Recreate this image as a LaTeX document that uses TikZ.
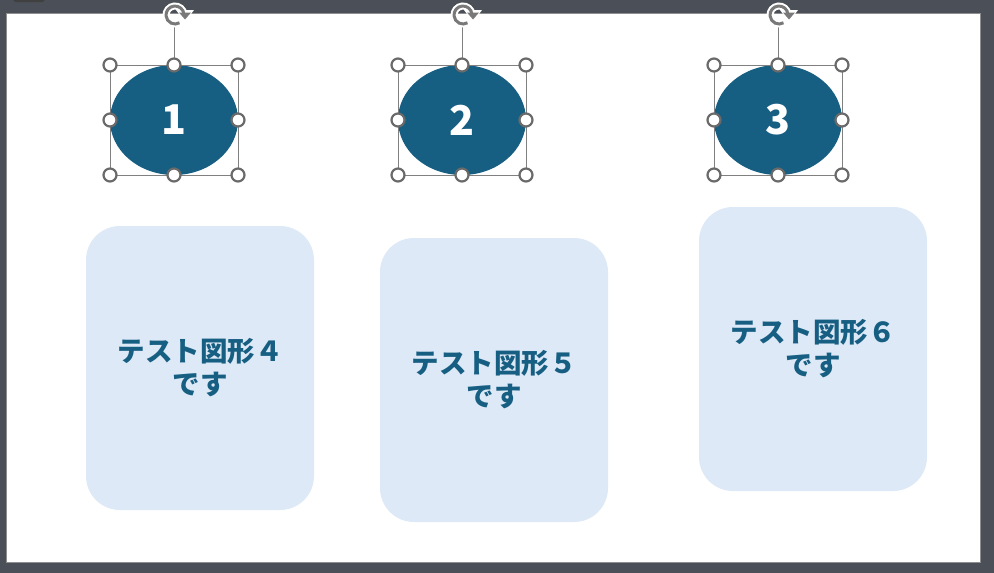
\documentclass[tikz,border=0pt]{standalone}
\usepackage{fontspec}
\newfontfamily\cjk{Noto Sans CJK JP}
\usetikzlibrary{arrows.meta,shapes.geometric}
\definecolor{frameDark}{HTML}{4B5058}
\definecolor{slideEdge}{HTML}{8E8E8E}
\definecolor{ovalBlue}{HTML}{165E82}
\definecolor{boxBlue}{HTML}{DDE9F6}
\definecolor{handleGray}{HTML}{6A6A6A}
\tikzset{
  oval/.style={ellipse, fill=ovalBlue, draw=none, minimum width=128pt, minimum height=110pt, inner sep=0pt,
    text=white, font=\cjk\bfseries\fontsize{41}{41}\selectfont},
  softbox/.style={rectangle, rounded corners=34pt, fill=boxBlue, draw=none, minimum width=228pt, minimum height=284pt,
    text=ovalBlue, align=center, font=\cjk\bfseries\fontsize{27.5}{33}\selectfont},
  selrect/.style={draw=handleGray!85, line width=0.9pt},
  handle/.style={circle, draw=handleGray, line width=2.2pt, fill=white, minimum size=13pt, inner sep=0pt},
}
\newcommand{\selectionbox}[3]{% name, center x, center y
  \coordinate (#1nw) at (#2-64,#3-55);
  \coordinate (#1se) at (#2+64,#3+55);
  \coordinate (#1rot) at (#2,#3-93);
  \draw[selrect] (#1nw) rectangle (#1se);
  \draw[selrect] (#1.north) -- (#1rot);
  \foreach \dx/\dy [count=\k] in {-64/-55,0/-55,64/-55,-64/0,64/0,-64/55,0/55,64/55}
    \node[handle] (#1h\k) at (#2+\dx,#3+\dy) {};
  \draw[white, line width=7pt] ([shift={(#2+1,#3-105)}]5:9pt) arc[start angle=5, delta angle=295, radius=9pt];
  \fill[white] (#2+2,#3-110) -- (#2+20,#3-110) -- (#2+11,#3-98) -- cycle;
  \draw[handleGray!90, line width=3pt] ([shift={(#2+1,#3-105)}]5:9pt) arc[start angle=5, delta angle=295, radius=9pt];
  \fill[handleGray!90] (#2+5,#3-107.5) -- (#2+17,#3-107.5) -- (#2+11,#3-100.5) -- cycle;
}
\begin{document}
\begin{tikzpicture}[x=1pt,y=-1pt]
  \useasboundingbox (0,0) rectangle (994,573);
  \fill[frameDark] (0,0) rectangle (994,573);
  \fill[black!75, rounded corners=3pt] (13,-4) rectangle (45,2);
  \fill[white, draw=slideEdge, line width=1pt] (6.5,13.5) rectangle (980.5,562.5);

  % boxes
  \node[softbox] (b1) at (200,368) {テスト図形４\\です};
  \node[softbox] (b2) at (494,380) {テスト図形５\\です};
  \node[softbox] (b3) at (813,349) {テスト図形６\\です};

  % ovals
  \node[oval] (o1) at (174,120) {1};
  \node[oval] (o2) at (462,120) {2};
  \node[oval] (o3) at (778,120) {3};

  \selectionbox{o1}{174}{120}
  \selectionbox{o2}{462}{120}
  \selectionbox{o3}{778}{120}
\end{tikzpicture}
\end{document}
